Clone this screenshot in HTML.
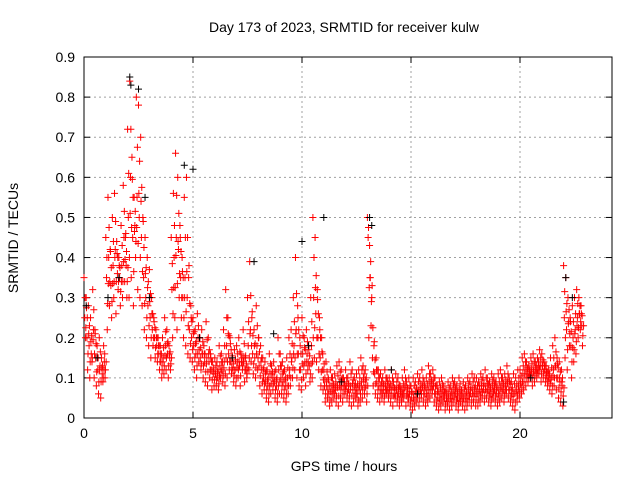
<!DOCTYPE html>
<html><head><meta charset="utf-8"><style>
html,body{margin:0;padding:0;background:#fff}
svg{display:block;font-family:"Liberation Sans",sans-serif}
</style></head><body>
<svg id="chart" width="640" height="480" viewBox="0 0 640 480">
<rect width="640" height="480" fill="#fff"/>
<g id="grid"></g>
<g id="axes"></g>
<g id="marks"></g>
<text x="344" y="32" font-size="14" text-anchor="middle">Day 173 of 2023, SRMTID for receiver kulw</text>
<text x="344" y="471" font-size="14" text-anchor="middle">GPS time / hours</text>
<text transform="translate(18,238) rotate(-90)" font-size="14" text-anchor="middle">SRMTID / TECUs</text>
</svg>
<script>
const xTicks=[0,5,10,15,20];
const yTicks=[0,0.1,0.2,0.3,0.4,0.5,0.6,0.7,0.8,0.9];
const slotHours=0.1;
const upperVals=[.35,.30,.28,.25,.32,.22,.18,.20,.15,.18,
.45,.55,.42,.50,.56,.44,.40,.48,.58,.45,
.72,.84,.65,.55,.80,.78,.70,.50,.45,.40,
.37,.30,.25,.22,.20,.18,.20,.25,.22,.18,
.45,.56,.66,.60,.48,.40,.55,.60,.35,.28,
.25,.22,.26,.20,.22,.18,.24,.20,.16,.14,
.15,.14,.18,.16,.22,.32,.25,.20,.15,.17,
.18,.20,.16,.22,.15,.30,.39,.25,.22,.28,
.20,.18,.15,.14,.12,.16,.13,.14,.12,.20,
.16,.14,.12,.15,.20,.22,.30,.40,.28,.20,
.25,.20,.22,.18,.30,.50,.45,.32,.25,.20,
.12,.14,.10,.12,.10,.11,.13,.14,.12,.10,
.12,.10,.14,.12,.10,.11,.12,.15,.13,.12,
.50,.43,.30,.18,.15,.12,.11,.10,.12,.10,
.10,.12,.09,.11,.10,.08,.10,.12,.09,.10,
.08,.10,.09,.11,.10,.12,.09,.10,.13,.11,
.12,.10,.08,.09,.10,.08,.07,.09,.08,.10,
.09,.08,.10,.07,.09,.08,.10,.09,.11,.10,
.10,.09,.11,.10,.12,.10,.09,.11,.10,.09,
.11,.12,.10,.11,.13,.10,.09,.11,.10,.12,
.12,.15,.16,.14,.13,.15,.16,.14,.15,.17,
.16,.14,.13,.12,.15,.18,.20,.15,.14,.12,
.38,.35,.30,.25,.28,.30,.32,.30,.28];
const midVals=[.25,.20,.18,.16,.22,.15,.12,.13,.11,.14,
.35,.40,.33,.38,.42,.36,.35,.38,.45,.38,
.50,.60,.45,.48,.55,.50,.45,.35,.30,.28,
.25,.22,.20,.18,.16,.14,.15,.18,.16,.15,
.32,.40,.45,.42,.35,.30,.35,.30,.22,.20,
.18,.16,.20,.15,.16,.14,.15,.14,.12,.11,
.11,.10,.13,.12,.14,.18,.16,.14,.12,.12,
.14,.13,.14,.15,.12,.18,.22,.16,.15,.18,
.13,.12,.10,.09,.08,.11,.10,.09,.08,.12,
.10,.09,.08,.10,.12,.15,.18,.22,.16,.12,
.16,.14,.16,.13,.18,.30,.26,.20,.15,.12,
.08,.09,.06,.08,.07,.07,.08,.09,.08,.08,
.08,.07,.08,.07,.07,.06,.08,.09,.09,.08,
.45,.35,.15,.11,.09,.08,.07,.07,.08,.07,
.07,.08,.06,.07,.06,.06,.07,.08,.06,.06,
.05,.06,.06,.07,.07,.08,.06,.07,.09,.08,
.08,.06,.05,.06,.07,.05,.05,.06,.05,.07,
.06,.05,.07,.05,.06,.05,.07,.06,.07,.06,
.06,.07,.08,.07,.08,.07,.06,.08,.07,.06,
.07,.08,.07,.08,.09,.07,.06,.06,.07,.08,
.09,.11,.12,.11,.11,.12,.12,.12,.13,.13,
.13,.12,.10,.10,.10,.12,.13,.10,.09,.08,
.25,.22,.24,.18,.20,.22,.25,.26,.23];
const lowerVals=[.20,.12,.10,.14,.10,.08,.06,.05,.09,.10,
.22,.28,.25,.30,.26,.32,.28,.30,.34,.30,
.30,.35,.28,.40,.32,.30,.28,.22,.20,.18,
.15,.18,.15,.14,.12,.10,.11,.12,.10,.12,
.20,.25,.22,.30,.25,.20,.18,.16,.15,.14,
.12,.10,.14,.12,.10,.09,.08,.10,.07,.08,
.08,.07,.10,.09,.08,.10,.12,.11,.09,.08,
.10,.08,.12,.09,.10,.12,.14,.11,.10,.12,
.08,.06,.07,.05,.04,.06,.07,.05,.04,.06,
.06,.05,.04,.06,.08,.10,.12,.10,.08,.07,
.10,.08,.12,.09,.10,.15,.14,.12,.08,.07,
.04,.05,.03,.04,.05,.04,.03,.05,.04,.06,
.05,.04,.03,.04,.05,.03,.04,.05,.06,.04,
.20,.23,.08,.06,.05,.04,.05,.04,.06,.05,
.04,.03,.05,.04,.03,.04,.05,.03,.04,.03,
.02,.03,.04,.03,.05,.04,.03,.04,.05,.06,
.04,.03,.02,.03,.04,.02,.03,.02,.03,.04,
.03,.02,.04,.03,.02,.03,.04,.03,.04,.03,
.03,.04,.05,.04,.05,.04,.03,.05,.04,.03,
.04,.05,.04,.06,.05,.04,.03,.02,.04,.05,
.06,.07,.08,.09,.10,.08,.09,.10,.11,.09,
.10,.09,.08,.07,.06,.08,.07,.05,.04,.03,
.15,.12,.18,.10,.14,.16,.20,.22,.18];
const blackTimes=[0.1,0.6,1.1,1.6,2.1,2.15,2.5,2.8,3.0,4.6,5.0,5.3,6.8,7.8,8.7,10.0,10.3,11.0,11.8,13.1,13.2,14.1,15.3,20.5,22.0,22.1,22.4];
const blackVals=[.28,.15,.30,.35,.85,.83,.82,.55,.30,.63,.62,.20,.15,.39,.21,.44,.18,.50,.09,.50,.48,.12,.06,.10,.04,.35,.30];
const X0=84,X1=612,Y0=418,Y1=57,XMAX=24.22,YMAX=0.9;
function xs(v){return X0+(X1-X0)*v/XMAX;}
function ys(v){return Y0-(Y0-Y1)*v/YMAX;}
const NS="http://www.w3.org/2000/svg";
function mk(tag,attrs,parent){const e=document.createElementNS(NS,tag);for(const k in attrs)e.setAttribute(k,attrs[k]);parent.appendChild(e);return e;}
const grid=document.getElementById('grid'),axes=document.getElementById('axes'),marks=document.getElementById('marks');
xTicks.forEach(t=>{const x=xs(t);
 const g=mk('line',{x1:x,y1:Y0,x2:x,y2:Y1,stroke:'#a0a0a0','stroke-width':1,'stroke-dasharray':'2,3'},grid);
 
 
 mk('line',{x1:x,y1:Y0,x2:x,y2:Y0-6,stroke:'#000'},axes);
 mk('line',{x1:x,y1:Y1,x2:x,y2:Y1+6,stroke:'#000'},axes);
 const l=mk('text',{x:x,y:Y0+20,'font-size':14,'text-anchor':'middle'},axes);l.textContent=t;
 
 
});
yTicks.forEach(t=>{const y=ys(t);
 const g=mk('line',{x1:X0,y1:y,x2:X1,y2:y,stroke:'#a0a0a0','stroke-width':1,'stroke-dasharray':'2,3'},grid);
 
 
 mk('line',{x1:X0,y1:y,x2:X0+6,y2:y,stroke:'#000'},axes);
 mk('line',{x1:X1,y1:y,x2:X1-6,y2:y,stroke:'#000'},axes);
 const l=mk('text',{x:X0-9,y:y+5,'font-size':14,'text-anchor':'end'},axes);l.textContent=String(t);
 
 
});
mk('rect',{x:X0,y:Y1,width:X1-X0,height:Y0-Y1,fill:'none',stroke:'#000'},axes);
function plus(t,v,color,name){const x=xs(t),y=ys(v);
 const p=mk('path',{d:`M${x-3.5},${y}h7M${x},${y-3.5}v7`,stroke:color,'stroke-width':1,fill:'none'},marks);
 
 
}
const seriesSets=[upperVals,midVals,lowerVals];
const slotOffsets=[0,0.033,0.066];
seriesSets.forEach((arr,k)=>arr.forEach((v,i)=>{
 plus(i*slotHours+slotOffsets[k],v,'#ff0000','srmtid-point');
}));
seriesSets.forEach((arr,k)=>arr.forEach((v,i)=>{
 const w=seriesSets[(k+1)%3][i];
 plus(i*slotHours+slotOffsets[k]+0.05,(v+w)/2,'#ff0000','srmtid-point');
}));
blackTimes.forEach((t,i)=>plus(t,blackVals[i],'#000000','srmtid-point-black'));
</script>
</body></html>
